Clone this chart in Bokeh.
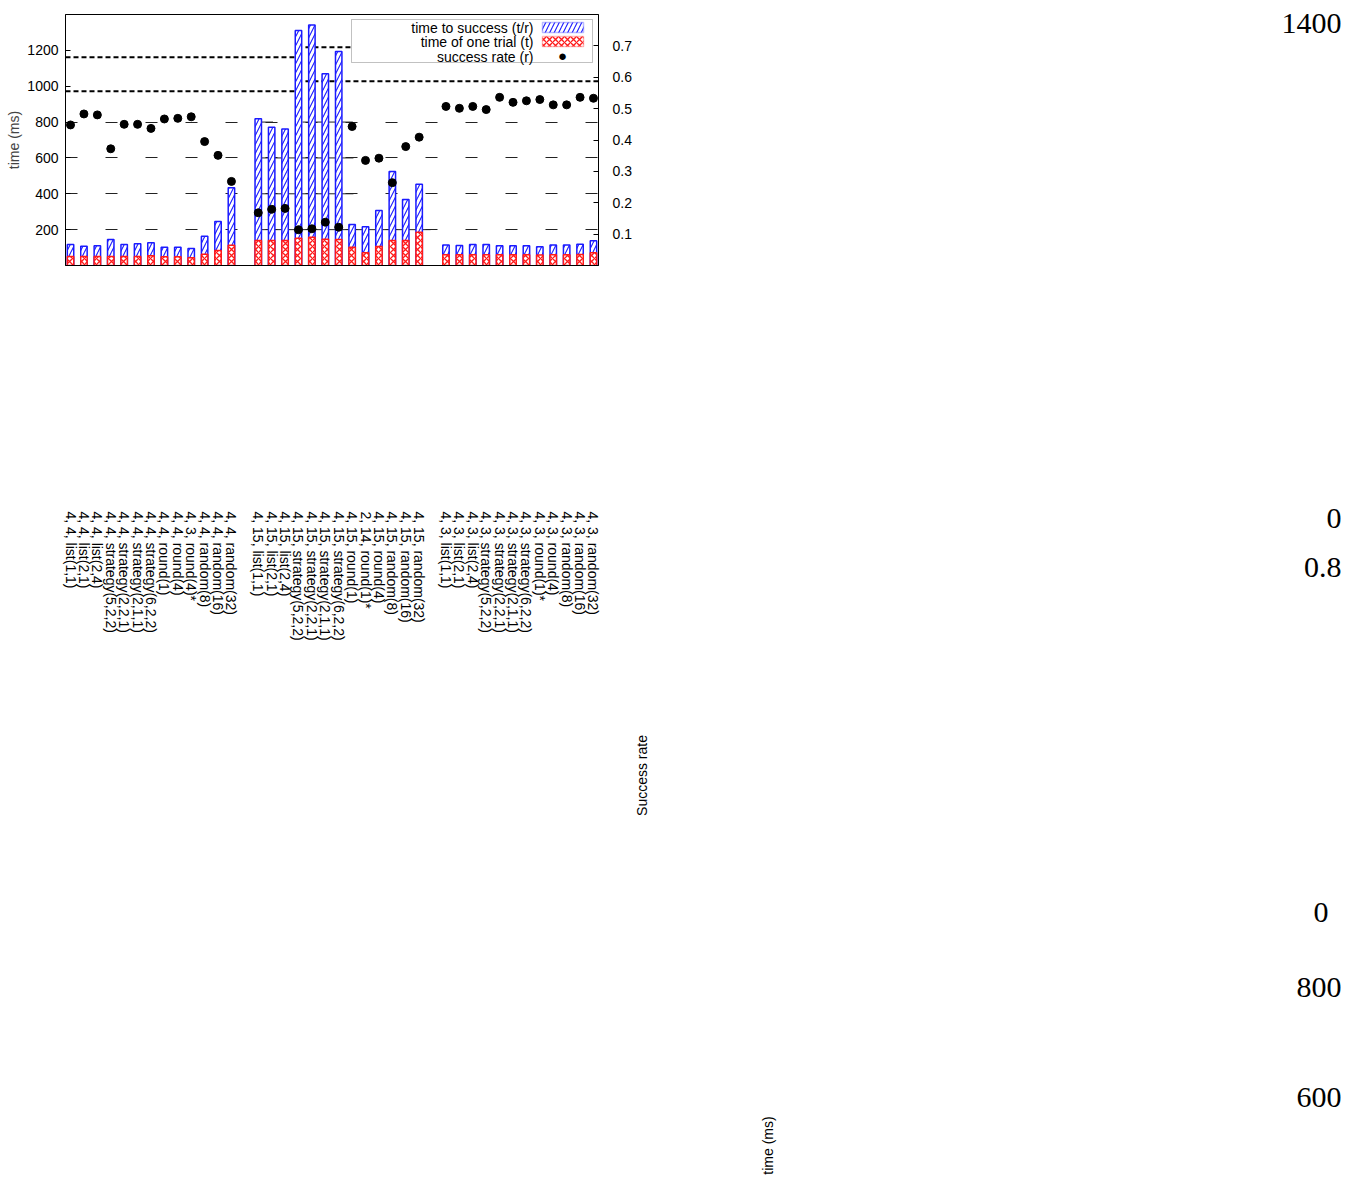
import math

from bokeh.embed import file_html
from bokeh.layouts import row
from bokeh.models import (BoxAnnotation, ColumnDataSource, FixedTicker, Label,
                          LinearAxis, Range1d)
from bokeh.plotting import figure
from bokeh.resources import INLINE

# ---- configurations, grouped by (n, m) setting -------------------------------
labels_44 = ["4, 4, list(1,1)", "4, 4, list(2,1)", "4, 4, list(2,4)",
             "4, 4, strategy(5,2,2)", "4, 4, strategy(2,2,1)", "4, 4, strategy(2,1,1)",
             "4, 4, strategy(6,2,2)", "4, 4, round(1)", "4, 4, round(4)",
             "4, 3, round(4)*", "4, 4, random(8)", "4, 4, random(16)", "4, 4, random(32)"]
labels_415 = ["4, 15, list(1,1)", "4, 15, list(2,1)", "4, 15, list(2,4)",
              "4, 15, strategy(5,2,2)", "4, 15, strategy(2,2,1)", "4, 15, strategy(2,1,1)",
              "4, 15, strategy(6,2,2)", "4, 15, round(1)", "2, 14, round(1)*",
              "4, 15, round(4)", "4, 15, random(8)", "4, 15, random(16)", "4, 15, random(32)"]
labels_43 = ["4, 3, list(1,1)", "4, 3, list(2,1)", "4, 3, list(2,4)",
             "4, 3, strategy(5,2,2)", "4, 3, strategy(2,2,1)", "4, 3, strategy(2,1,1)",
             "4, 3, strategy(6,2,2)", "4, 3, round(1)*", "4, 3, round(4)",
             "4, 3, random(8)", "4, 3, random(16)", "4, 3, random(32)"]

# time of one trial t (ms)
trial_44 = [50, 50, 50, 50, 50, 50, 54, 49, 49, 43, 63, 84, 113]
trial_415 = [139, 139, 139, 152, 158, 147, 145, 102, 71, 106, 139, 139, 186]
trial_43 = [60, 60, 60, 60, 60, 60, 60, 58, 60, 60, 61, 71]

# time to success t/r (ms)
tts_44 = [117, 108, 110, 145, 117, 121, 127, 102, 102, 95, 163, 245, 433]
tts_415 = [818, 771, 762, 1311, 1342, 1069, 1194, 229, 216, 307, 524, 368, 453]
tts_43 = [115, 112, 117, 117, 110, 110, 110, 104, 115, 115, 119, 138]

# success rate r
rate_44 = [0.448, 0.483, 0.480, 0.372, 0.450, 0.450, 0.437, 0.467, 0.469, 0.474,
           0.395, 0.351, 0.268]
rate_415 = [0.168, 0.179, 0.182, 0.114, 0.117, 0.138, 0.122, 0.443, 0.335, 0.342,
            0.264, 0.379, 0.409]
rate_43 = [0.507, 0.501, 0.507, 0.497, 0.536, 0.520, 0.525, 0.529, 0.512, 0.512,
           0.536, 0.533]

# dotted reference levels (ms)
ref_levels_left = [1162, 972]
ref_levels_right = [1218, 1028]

time_ticks = [200, 400, 600, 800, 1000, 1200]
rate_ticks = [0.1, 0.2, 0.3, 0.4, 0.5, 0.6, 0.7]

# loose texts of the side panel: (text, right edge x, y)
side_numbers = [("1400", 1341, 23), ("0", 1341, 518), ("0.8", 1341, 567),
                ("0", 1328, 912), ("800", 1341, 987), ("600", 1341, 1097)]
side_titles = [("Success rate", 641, 775), ("time (ms)", 767, 1145)]

FONT = "Liberation Sans"
SERIF = "Liberation Serif"
BLUE = "#1a1aff"
RED = "#ff1a1a"

# ---- slot positions: one empty slot between groups ---------------------------
groups = [
    (labels_44, trial_44, tts_44, rate_44),
    (labels_415, trial_415, tts_415, rate_415),
    (labels_43, trial_43, tts_43, rate_43),
]
xs, labels, trial, tts, rate = [], [], [], [], []
group_start = []
pos = 0
for lab, t, s, r in groups:
    group_start.append(pos)
    xs += list(range(pos, pos + len(lab)))
    labels += lab
    trial += t
    tts += s
    rate += r
    pos += len(lab) + 1

src = ColumnDataSource(dict(x=xs, trial=trial, tts=tts, rate=rate))

X0, X1 = -0.375, xs[-1] + 0.375
Y0, Y1 = 0, 1400
MAIN_W, H = 634, 1183

p = figure(width=MAIN_W, height=H,
           x_range=Range1d(X0, X1), y_range=Range1d(Y0, Y1),
           output_backend="svg", toolbar_location=None,
           min_border_left=65, min_border_right=MAIN_W - 598,
           min_border_top=14, min_border_bottom=H - 265)
p.frame_align = False
p.background_fill_color = "white"
p.border_fill_color = "white"
p.outline_line_color = "black"
p.outline_line_width = 1

p.extra_y_ranges = {"rate": Range1d(0, 0.8)}

# left axis: time
ya = p.yaxis[0]
ya.ticker = FixedTicker(ticks=time_ticks)
ya.axis_label = "time (ms)"
ya.axis_label_text_font = FONT
ya.axis_label_text_font_size = "14px"
ya.axis_label_text_font_style = "normal"
ya.axis_label_standoff = 2
ya.major_label_text_font = FONT
ya.major_label_text_font_size = "14px"
ya.major_label_text_color = "black"
ya.major_label_standoff = 7
ya.major_tick_in = 5
ya.major_tick_out = 0
ya.minor_tick_line_color = None
ya.axis_line_color = "black"

# right axis: success rate
ra = LinearAxis(y_range_name="rate", ticker=FixedTicker(ticks=rate_ticks))
ra.major_label_text_font = FONT
ra.major_label_text_font_size = "14px"
ra.major_label_text_color = "black"
ra.major_label_standoff = 14
ra.major_tick_in = 5
ra.major_tick_out = 0
ra.minor_tick_line_color = None
p.add_layout(ra, "right")

# bottom axis: configuration names, written downwards far below the frame
xa = p.xaxis[0]
xa.ticker = FixedTicker(ticks=xs)
xa.major_label_overrides = {x: lab for x, lab in zip(xs, labels)}
xa.major_label_orientation = -math.pi / 2
xa.major_label_text_font = FONT
xa.major_label_text_font_size = "14px"
xa.major_label_text_color = "black"
xa.major_label_standoff = 246
xa.major_tick_line_color = None
xa.major_tick_out = 0
xa.major_tick_in = 0
xa.minor_tick_line_color = None

# grid
p.xgrid.visible = False
p.ygrid.ticker = FixedTicker(ticks=[200, 400, 600, 800])
p.ygrid.grid_line_color = "#222222"
p.ygrid.grid_line_width = 1
p.ygrid.grid_line_dash = "12 28"

# solid grid stretches across the second group
g2 = group_start[1]
solid = [
    (g2 + 0.15, g2 + 1.1, 800), (g2 + 3.3, g2 + 7.05, 800),
    (g2 + 0.15, g2 + 7.1, 600),
    (g2 - 0.05, g2 + 7.1, 400),
    (g2 - 0.05, g2 + 12.85, 200),
]
p.segment(x0=[s[0] for s in solid], x1=[s[1] for s in solid],
          y0=[s[2] for s in solid], y1=[s[2] for s in solid],
          line_color="#222222", line_width=1, level="underlay")

# dotted reference lines
split = g2 + 3
p.segment(x0=[X0] * len(ref_levels_left), x1=[split] * len(ref_levels_left),
          y0=ref_levels_left, y1=ref_levels_left,
          line_color="black", line_width=2, line_dash="5 3")
p.segment(x0=[split + 0.52] * 2, x1=[g2 + 7.05, X1],
          y0=ref_levels_right, y1=ref_levels_right,
          line_color="black", line_width=2, line_dash="5 3")

BW = 0.48
p.vbar(x="x", top="tts", bottom=0, width=BW, source=src,
       fill_color="white", line_color=BLUE, line_width=1.5,
       hatch_pattern="/", hatch_color=BLUE, hatch_scale=9, hatch_weight=1.1)
p.vbar(x="x", top="trial", bottom=0, width=BW, source=src,
       fill_color="white", line_color=RED, line_width=1.5,
       hatch_pattern="x", hatch_color=RED, hatch_scale=6, hatch_weight=1.3)
p.scatter(x="x", y="rate", source=src, y_range_name="rate",
          size=8, marker="circle", fill_color="black", line_color="black")


# ---- pixel helpers (canvas px -> data units of the main ranges) ---------------
FL, FR, FT, FB = 65, 598, 14, 265


def dx(px):
    return X0 + (px - FL) * (X1 - X0) / (FR - FL)


def dy(py):
    return Y0 + (FB - py) * (Y1 - Y0) / (FB - FT)


# legend (text on the left, sample on the right)
p.add_layout(BoxAnnotation(left=dx(351), right=dx(592), top=dy(19), bottom=dy(62),
                           fill_color="white", fill_alpha=1.0,
                           line_color="#333333", line_width=1, level="annotation"))
p.add_layout(BoxAnnotation(left=dx(542), right=dx(583), top=dy(22), bottom=dy(32),
                           fill_color="white", fill_alpha=1.0,
                           line_color=BLUE, line_width=1.5,
                           hatch_pattern="/", hatch_color=BLUE,
                           hatch_scale=9, hatch_weight=1.1, level="annotation"))
p.add_layout(BoxAnnotation(left=dx(542), right=dx(583), top=dy(36), bottom=dy(46),
                           fill_color="white", fill_alpha=1.0,
                           line_color=RED, line_width=1.5,
                           hatch_pattern="x", hatch_color=RED,
                           hatch_scale=6, hatch_weight=1.3, level="annotation"))
for txt, py in [("time to success (t/r)", 27), ("time of one trial (t)", 41),
                ("success rate (r)", 56)]:
    p.add_layout(Label(x=dx(533), y=dy(py), text=txt, text_align="right",
                       text_baseline="middle", text_font=FONT,
                       text_font_size="14px", text_color="black"))
p.add_layout(Label(x=dx(562), y=dy(55), text="\u25cf", text_align="center",
                   text_baseline="middle", text_font=FONT,
                   text_font_size="15px", text_color="black"))

# ---- side panel carrying the loose texts --------------------------------------
side = figure(width=1351 - MAIN_W, height=H,
              x_range=Range1d(MAIN_W, 1351), y_range=Range1d(H, 0),
              x_axis_type=None, y_axis_type=None,
              output_backend="svg", toolbar_location=None,
              min_border=0)
side.frame_align = False
side.grid.visible = False
side.outline_line_color = None
side.background_fill_color = "white"
side.border_fill_color = "white"

for txt, px, py in side_numbers:
    side.add_layout(Label(x=px, y=py, text=txt, text_align="right",
                          text_baseline="alphabetic", text_font=SERIF,
                          text_font_size="30px", text_color="black"))

for txt, px, py in side_titles:
    side.add_layout(Label(x=px, y=py, text=txt, angle=math.pi / 2,
                          text_align="center", text_baseline="middle",
                          text_font=FONT, text_font_size="14px", text_color="black"))

page = row(p, side, spacing=0)
open("out.html", "w").write(file_html(page, INLINE))
